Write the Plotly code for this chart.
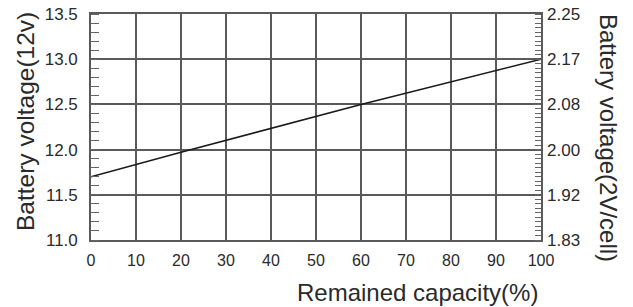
import plotly.graph_objects as go

# Data
capacity = [0, 20, 60, 100]
voltage_12v = [11.7, 11.97, 12.5, 13.0]

x_ticks = [0, 10, 20, 30, 40, 50, 60, 70, 80, 90, 100]
y_ticks = [11.0, 11.5, 12.0, 12.5, 13.0, 13.5]
cell_tick_labels = ["1.83", "1.92", "2.00", "2.08", "2.17", "2.25"]

FONT = "Liberation Sans, Arial, sans-serif"
GRID = "#5a5a5a"
TXT = "#2a2a2a"

fig = go.Figure()
fig.add_trace(go.Scatter(
    x=capacity, y=voltage_12v, mode="lines",
    line=dict(color="#1a1a1a", width=1.6),
    showlegend=False, hoverinfo="skip",
))
# invisible trace to activate yaxis2
fig.add_trace(go.Scatter(
    x=[capacity[0]], y=[voltage_12v[0] / 6], yaxis="y2",
    mode="markers", marker=dict(opacity=0), showlegend=False, hoverinfo="skip",
))

fig.update_layout(
    width=633, height=307,
    margin=dict(l=91, r=92, t=14, b=67),
    paper_bgcolor="white", plot_bgcolor="white",
    font=dict(family=FONT, color=TXT, size=16),
    xaxis=dict(
        range=[0, 100], tickvals=x_ticks, showgrid=True, gridcolor=GRID, gridwidth=1.6,
        showline=True, linecolor=GRID, linewidth=1.6, mirror=True,
        ticks="", zeroline=False, tickfont=dict(size=16, color=TXT),
        ticklabelstandoff=5, automargin=False,
    ),
    yaxis=dict(
        range=[11.0, 13.5], tickvals=y_ticks, tickformat=".1f",
        showgrid=True, gridcolor=GRID, gridwidth=1.6,
        showline=True, linecolor=GRID, linewidth=1.6, mirror=True,
        ticks="", zeroline=False, tickfont=dict(size=17, color=TXT),
        ticklabelstandoff=8, automargin=False,
        minor=dict(ticks="inside", dtick=0.1, tick0=11.0, ticklen=8,
                   tickcolor="#666666", tickwidth=1.2, showgrid=False),
    ),
    yaxis2=dict(
        overlaying="y", side="right", anchor="x",
        range=[11.0 / 6, 13.5 / 6],
        tickvals=[v / 6 for v in y_ticks], ticktext=cell_tick_labels,
        showgrid=False, zeroline=False, ticks="",
        tickfont=dict(size=17, color=TXT), ticklabelstandoff=5, automargin=False,
        minor=dict(ticks="inside", dtick=0.05 / 6, tick0=11.0 / 6, ticklen=6,
                   tickcolor="#666666", tickwidth=1.1, showgrid=False),
    ),
    annotations=[
        dict(text="Battery voltage(12v)", xref="paper", yref="paper",
             x=(26 - 91) / 450, y=(240 - 122) / 226, xanchor="center", yanchor="middle",
             textangle=-90, showarrow=False, font=dict(size=24.5, color=TXT, family=FONT)),
        dict(text="Battery voltage(2V/cell)", xref="paper", yref="paper",
             x=(609 - 91) / 450, y=(240 - 138) / 226, xanchor="center", yanchor="middle",
             textangle=90, showarrow=False, font=dict(size=24, color=TXT, family=FONT)),
        dict(text="Remained capacity(%)", xref="paper", yref="paper",
             x=(417 - 91) / 450, y=(240 - 292) / 226, xanchor="center", yanchor="middle",
             showarrow=False, font=dict(size=24, color=TXT, family=FONT)),
    ],
)

fig.write_html("out.html", config={"displayModeBar": False},
               post_script="document.body.style.margin='0px';")
